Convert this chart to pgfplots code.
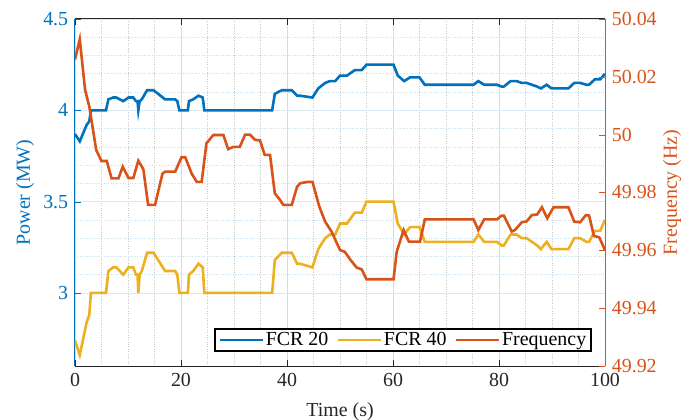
\documentclass[border=0pt]{standalone}
\usepackage{fontspec}
\setmainfont{Liberation Serif}
\usepackage{pgfplots}
\pgfplotsset{compat=1.18}

\definecolor{mblue}{RGB}{0,114,189}
\definecolor{myellow}{RGB}{237,177,32}
\definecolor{morange}{RGB}{217,83,25}
\definecolor{axgray}{RGB}{38,38,38}

\pgfplotsset{
  common/.style={
    scale only axis,
    width=530bp, height=347bp,
    at={(0,0)}, anchor=south west,
    xmin=0, xmax=100,
    xtick={0,20,...,100},
    major tick length=6bp,
    minor tick length=0bp,
    scaled ticks=false,
    /pgf/number format/assume math mode=true,
    legend image code/.code={\draw[#1] (0bp,0bp) -- (43bp,0bp);},
  },
}

\begin{document}
\fontsize{20}{24}\selectfont
\begin{tikzpicture}
  \begin{axis}[
      common,
      axis y line*=left,
      axis x line*=box,
      ymin=2.6, ymax=4.5,
      ytick={3,3.5,4,4.5},
      minor x tick num=3,
      minor y tick num=4,
      xmajorgrids, ymajorgrids, xminorgrids, yminorgrids,
      major x grid style={color=black!15, line width=0.8bp},
      major y grid style={color=mblue!15, line width=0.8bp},
      minor x grid style={color=black!22, dotted, line width=0.6bp},
      minor y grid style={color=mblue!22, dotted, line width=0.6bp},
      x axis line style={color=axgray, line width=1bp},
      y axis line style={color=mblue, line width=1bp},
      ytick style={color=mblue},
      xtick style={color=axgray},
      yticklabel style={color=mblue},
      xticklabel style={color=axgray},
      ylabel={Power (MW)},
      ylabel style={color=mblue, at={(axis description cs:-0.0943,0.5)}, anchor=center},
      xlabel={Time (s)},
      xlabel style={color=axgray, at={(axis description cs:0.5,-0.1326)}, anchor=center},
  ]
  \addplot[color=mblue, line width=2.6bp]
      coordinates {
        (0,3.87) (0.9,3.83) (2.2,3.92) (2.7,3.94) (3.0,4.00) (5.85,4.00)
        (6.3,4.06) (7.2,4.07) (7.8,4.07) (9.1,4.05) (10.1,4.07) (11.0,4.07)
        (11.5,4.05) (11.8,4.05) (11.95,4.00) (12.2,4.05) (12.6,4.06) (13.6,4.11)
        (14.8,4.11) (15.7,4.09) (17.0,4.06) (18.9,4.06) (19.3,4.05) (19.7,4.00)
        (21.3,4.00) (21.5,4.05) (22.3,4.06) (23.3,4.08) (24.1,4.07) (24.4,4.00)
        (37.2,4.00) (37.7,4.09) (39.0,4.11) (40.9,4.11) (41.9,4.08) (42.5,4.08)
        (44.8,4.07) (45.9,4.12) (47.2,4.15) (48.1,4.16) (49.1,4.16) (50.0,4.19)
        (51.3,4.19) (52.8,4.22) (54.1,4.22) (55.0,4.25) (60.1,4.25) (60.9,4.19)
        (62.1,4.16) (63.2,4.18) (65.0,4.18) (66.0,4.14) (75.2,4.14) (76.1,4.16)
        (77.2,4.14) (79.6,4.14) (80.5,4.13) (80.9,4.13) (82.2,4.16) (83.3,4.16)
        (84.3,4.15) (85.2,4.15) (86.2,4.14) (87.2,4.13) (87.9,4.12) (89.0,4.14)
        (89.9,4.12) (93.1,4.12) (94.2,4.15) (95.3,4.15) (96.5,4.14) (97.0,4.14)
        (98.1,4.17) (99.1,4.17) (100,4.20)
      };
  \addplot[color=myellow, line width=2.6bp]
      coordinates {
        (0,2.74) (0.9,2.66) (2.2,2.84) (2.7,2.88) (3.0,3.00) (5.85,3.00)
        (6.3,3.12) (7.2,3.14) (7.8,3.14) (9.1,3.10) (10.1,3.14) (11.0,3.14)
        (11.5,3.10) (11.8,3.10) (11.95,3.00) (12.2,3.10) (12.6,3.12) (13.6,3.22)
        (14.8,3.22) (15.7,3.18) (17.0,3.12) (18.9,3.12) (19.3,3.10) (19.7,3.00)
        (21.3,3.00) (21.5,3.10) (22.3,3.12) (23.3,3.16) (24.1,3.14) (24.4,3.00)
        (37.2,3.00) (37.7,3.18) (39.0,3.22) (40.9,3.22) (41.9,3.16) (42.5,3.16)
        (44.8,3.14) (45.9,3.24) (47.2,3.30) (48.1,3.32) (49.1,3.32) (50.0,3.38)
        (51.3,3.38) (52.8,3.44) (54.1,3.44) (55.0,3.50) (60.1,3.50) (60.9,3.38)
        (62.1,3.32) (63.2,3.36) (65.0,3.36) (66.0,3.28) (75.2,3.28) (76.1,3.32)
        (77.2,3.28) (79.6,3.28) (80.5,3.26) (80.9,3.26) (82.2,3.32) (83.3,3.32)
        (84.3,3.30) (85.2,3.30) (86.2,3.28) (87.2,3.26) (87.9,3.24) (89.0,3.28)
        (89.9,3.24) (93.1,3.24) (94.2,3.30) (95.3,3.30) (96.5,3.28) (97.0,3.28)
        (98.1,3.34) (99.1,3.34) (100,3.40)
      };
  \end{axis}

  \begin{axis}[
      common,
      axis y line*=right,
      axis x line=none,
      ymin=49.92, ymax=50.04,
      ytick={49.92,49.94,...,50.05},
      yticklabel style={color=morange, /pgf/number format/fixed, /pgf/number format/precision=2},
      ytick style={color=morange},
      y axis line style={color=morange, line width=1bp},
      ylabel={Frequency (Hz)},
      ylabel style={color=morange, at={(axis description cs:1.1264,0.5)}, anchor=center},
      legend columns=3,
      legend style={
          at={(axis description cs:0.9755,0.0403)}, anchor=south east,
          draw=black, line width=1.6bp, fill=white,
          inner xsep=3bp, inner ysep=1bp,
          /tikz/every even column/.append style={column sep=6bp},
      },
  ]
  \addlegendimage{color=mblue, line width=2.6bp}
  \addlegendentry{FCR 20}
  \addlegendimage{color=myellow, line width=2.6bp}
  \addlegendentry{FCR 40}
  \addplot[color=morange, line width=2.6bp]
      coordinates {
        (0,50.026) (0.9,50.033) (1.9,50.0155) (2.7,50.0097) (3.5,50.0005)
        (4.0,49.9947) (5.0,49.9909) (6.0,49.9909) (6.9,49.9849) (8.2,49.9849)
        (9.0,49.9889) (10.1,49.985) (11.0,49.985) (11.95,49.991) (12.9,49.988)
        (13.8,49.9757) (15.1,49.9757) (16.5,49.9865) (17.0,49.9872) (18.9,49.9872)
        (20.1,49.9922) (20.8,49.9922) (22.0,49.9866) (22.96,49.9837) (23.9,49.9837)
        (24.8,49.997) (26.1,49.9999) (28.0,49.9999) (28.9,49.995) (29.9,49.9958)
        (31.1,49.9958) (32.1,50.0) (33.0,50.0) (34.0,49.9982) (34.9,49.998)
        (35.8,49.993) (36.8,49.993) (37.7,49.9797) (38.7,49.9774) (39.3,49.9757)
        (40.9,49.9757) (41.9,49.982) (42.5,49.9832) (44.0,49.9837) (44.8,49.9837)
        (46.1,49.9751) (47.2,49.9699) (48.4,49.9665) (50.0,49.9601) (50.9,49.9595)
        (51.9,49.9569) (53.1,49.9541) (54.1,49.9534) (55.0,49.950) (60.1,49.950)
        (60.7,49.9595) (62.0,49.967) (63.0,49.963) (65.1,49.963) (66.0,49.9707)
        (75.2,49.9707) (76.1,49.967) (77.2,49.9707) (79.6,49.9707) (80.5,49.972)
        (80.9,49.972) (82.4,49.9665) (83.0,49.967) (84.3,49.9697) (85.2,49.970)
        (86.2,49.9722) (87.2,49.9724) (88.1,49.9749) (89.1,49.9711) (90.3,49.9749)
        (93.1,49.9749) (94.2,49.9699) (95.3,49.9697) (96.4,49.9722) (97.0,49.9720)
        (97.9,49.965) (98.9,49.9645) (100,49.9601)
      };
  \addlegendentry{Frequency}
  \end{axis}
  \pgfresetboundingbox
  \useasboundingbox (-75bp,-54bp) rectangle (609bp,366bp);
\end{tikzpicture}
\end{document}
